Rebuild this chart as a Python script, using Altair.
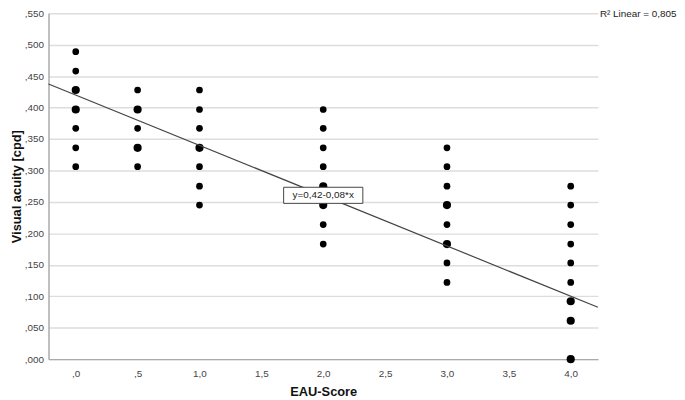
import altair as alt
import pandas as pd

# EAU-Score columns, visual acuity values (cpd) and number of overlapping cases
col_x = [0.0, 0.5, 1.0, 2.0, 3.0, 4.0]
col_y = [
    [0.489, 0.458, 0.428, 0.397, 0.367, 0.336, 0.306],
    [0.428, 0.397, 0.367, 0.336, 0.306],
    [0.428, 0.397, 0.367, 0.336, 0.306, 0.275, 0.245],
    [0.397, 0.367, 0.336, 0.306, 0.275, 0.245, 0.214, 0.183],
    [0.336, 0.306, 0.275, 0.245, 0.214, 0.183, 0.153, 0.122],
    [0.275, 0.245, 0.214, 0.183, 0.153, 0.122, 0.092, 0.061, 0.000],
]
col_n = [
    [1, 1, 2, 2, 1, 1, 1],
    [1, 2, 1, 2, 1],
    [1, 1, 1, 2, 1, 1, 1],
    [1, 1, 1, 1, 2, 2, 1, 1],
    [1, 1, 1, 2, 1, 2, 1, 1],
    [1, 1, 1, 1, 1, 1, 2, 2, 2],
]

intercept = 0.42
slope = -0.08
r2_label = "R\u00b2 Linear = 0,805"
eq_label = "y=0,42-0,08*x"

x_ticks = [0, 0.5, 1.0, 1.5, 2.0, 2.5, 3.0, 3.5, 4.0]
y_ticks = [0.0, 0.05, 0.10, 0.15, 0.20, 0.25, 0.30, 0.35, 0.40, 0.45, 0.50, 0.55]

x_dom = [-0.22, 4.22]
y_dom = [0.0, 0.55]

rows = []
for cx, ys, ns in zip(col_x, col_y, col_n):
    for yv, nv in zip(ys, ns):
        rows.append({"x": cx, "y": yv, "n": nv})
df = pd.DataFrame(rows)

line_df = pd.DataFrame({"x": x_dom, "y": [intercept + slope * v for v in x_dom]})

eq_x, eq_y = 2.0, 0.2605
eq_df = pd.DataFrame({"x": [eq_x - 0.32], "x2": [eq_x + 0.32],
                      "y": [eq_y - 0.0128], "y2": [eq_y + 0.0128],
                      "cx": [eq_x], "cy": [eq_y], "t": [eq_label]})

FONT = "Liberation Sans"

xscale = alt.Scale(domain=x_dom, nice=False, zero=False)
yscale = alt.Scale(domain=y_dom, nice=False, zero=False)

xaxis = alt.Axis(
    values=x_ticks, grid=False, ticks=False, title="EAU-Score",
    labelExpr="datum.value < 1 ? replace(format(datum.value, '.1f'), '0.', ',') : replace(format(datum.value, '.1f'), '.', ',')",
    labelFont=FONT, labelFontSize=10, labelColor="#444", labelPadding=10,
    titleFont=FONT, titleFontSize=13, titleFontWeight="bold", titleColor="#111",
    titlePadding=7, domainColor="#aaa", domainWidth=1.5,
)
yaxis = alt.Axis(
    values=y_ticks, grid=True, gridColor="#ddd", gridWidth=1.5, ticks=False,
    title="Visual acuity [cpd]", labelOverlap=False,
    labelExpr="replace(format(datum.value, '.3f'), '0.', ',')",
    labelFont=FONT, labelFontSize=10, labelColor="#444", labelPadding=5,
    titleFont=FONT, titleFontSize=13, titleFontWeight="bold", titleColor="#111",
    titlePadding=1, domainColor="#aaa", domainWidth=1.5,
)

X = lambda f: alt.X(f, scale=xscale, axis=xaxis)
Y = lambda f: alt.Y(f, scale=yscale, axis=yaxis)

points = alt.Chart(df).mark_circle(color="black", opacity=1).encode(
    x=X("x:Q"), y=Y("y:Q"),
    size=alt.Size("n:Q", scale=alt.Scale(domain=[1, 2], range=[46, 68]), legend=None),
)

reg = alt.Chart(line_df).mark_line(color="#444", strokeWidth=1.2).encode(
    x=X("x:Q"), y=Y("y:Q")
)

box = alt.Chart(eq_df).mark_rect(fill="white", stroke="#444", strokeWidth=1).encode(
    x=X("x:Q"), x2="x2:Q", y=Y("y:Q"), y2="y2:Q",
)
eq_text = alt.Chart(eq_df).mark_text(font=FONT, fontSize=10, color="#222").encode(
    x=X("cx:Q"), y=Y("cy:Q"), text="t:N"
)

r2 = alt.Chart(pd.DataFrame({"t": [r2_label]})).mark_text(
    font=FONT, fontSize=10, color="#222", align="left", baseline="middle"
).encode(x=alt.value(558), y=alt.value(1), text="t:N")

chart = alt.layer(points, reg, box, eq_text, r2).properties(
    width=556, height=350,
    autosize=alt.AutoSizeParams(type="none"),
    padding={"left": 41, "top": 3, "right": 80, "bottom": 37},
).configure_view(stroke=None)

chart.save("out.html", embed_options={"renderer": "svg", "actions": False})
